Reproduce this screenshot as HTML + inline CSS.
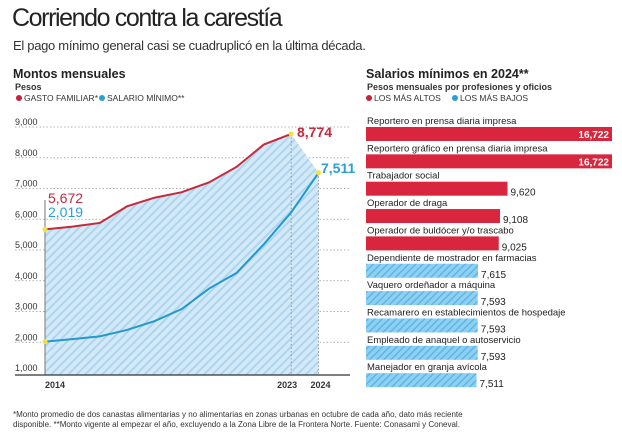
<!DOCTYPE html>
<html><head><meta charset="utf-8"><style>
body{margin:0;width:622px;height:443px;background:#fff;font-family:"Liberation Sans",sans-serif;overflow:hidden;position:relative;color:#222}
.t{position:absolute;white-space:nowrap}
</style></head><body>
<div class="t" style="left:12px;top:4px;font-size:25px;letter-spacing:-1.4px;color:#222">Corriendo contra la carestía</div>
<div class="t" style="left:13px;top:38px;font-size:13px;letter-spacing:-0.3px;color:#333">El pago mínimo general casi se cuadruplicó en la última década.</div>
<svg width="622" height="443" style="position:absolute;left:0;top:0" id="svg">
<defs><pattern id="hatch" width="6" height="6" patternUnits="userSpaceOnUse" patternTransform="rotate(45)"><rect width="6" height="6" fill="#d3e9f7"/><rect width="2" height="6" fill="#aed5ef"/></pattern>
<pattern id="hatch2" width="5" height="5" patternUnits="userSpaceOnUse" patternTransform="rotate(45)"><rect width="5" height="5" fill="#8fd0f2"/><rect width="1.5" height="5" fill="#5cb6e6"/></pattern></defs>
<g id="left"></g><g id="right"></g>
</svg>
<div class="t" style="left:13px;top:410px;font-size:8px;line-height:10px;color:#333">*Monto promedio de dos canastas alimentarias y no alimentarias en zonas urbanas en octubre de cada año, dato más reciente<br>disponible. **Monto vigente al empezar el año, excluyendo a la Zona Libre de la Frontera Norte. Fuente: Conasami y Coneval.</div>
<script>
const years=[2014,2015,2016,2017,2018,2019,2020,2021,2022,2023,2024];
const gasto=[5672,5760,5880,6420,6700,6880,7200,7700,8430,8774];
const salario=[2019,2103,2192,2401,2686,3080,3746,4251,5186,6223,7511];
const yTicks=[1000,2000,3000,4000,5000,6000,7000,8000,9000];
const cats=["Reportero en prensa diaria impresa","Reportero gráfico en prensa diaria impresa","Trabajador social","Operador de draga","Operador de buldócer y/o trascabo","Dependiente de mostrador en farmacias","Vaquero ordeñador a máquina","Recamarero en establecimientos de hospedaje","Empleado de anaquel o autoservicio","Manejador en granja avícola"];
const vals=[16722,16722,9620,9108,9025,7615,7593,7593,7593,7511];
const NS="http://www.w3.org/2000/svg";
function mk(p,tag,a,txt){const e=document.createElementNS(NS,tag);for(const k in a)e.setAttribute(k,a[k]);if(txt!=null)e.textContent=txt;p.appendChild(e);return e;}
const L=document.getElementById('left'),R=document.getElementById('right');
const x=y=>45+(y-2014)*27.35, Y=v=>127+(9000-v)*0.03075;
let e;
e=mk(L,'text',{x:13,y:78,'font-size':12.5,'font-weight':'bold',fill:'#222'},'Montos mensuales');
e=mk(L,'text',{x:15,y:90,'font-size':9,'font-weight':'bold',fill:'#333'},'Pesos');
e=mk(L,'circle',{cx:19,cy:98,r:3,fill:'#c8203a'});
e=mk(L,'text',{x:24,y:101,'font-size':8.5,fill:'#333'},'GASTO FAMILIAR*');
e=mk(L,'circle',{cx:102,cy:98,r:3,fill:'#2a9fd6'});
e=mk(L,'text',{x:107,y:101,'font-size':8.5,fill:'#333'},'SALARIO MÍNIMO**');
yTicks.forEach(v=>{if(v>1000){e=mk(L,'line',{x1:15,x2:350,y1:Y(v),y2:Y(v),stroke:'#999','stroke-width':0.8,'stroke-dasharray':'1.5,2'});}
e=mk(L,'text',{x:15,y:Y(v)-2,'font-size':9,fill:'#333'},v.toLocaleString('en-US'));});
let pts=gasto.map((v,i)=>x(years[i])+','+Y(v));
pts.push(x(2024)+','+Y(salario[10]));pts.push(x(2024)+','+375);pts.push(x(2014)+','+375);
e=mk(L,'polygon',{points:pts.join(' '),fill:'url(#hatch)'});
[2023,2024].forEach(yy=>{e=mk(L,'line',{x1:x(yy),x2:x(yy),y1:yy==2023?Y(gasto[9]):Y(salario[10]),y2:375,stroke:'#888','stroke-width':0.8,'stroke-dasharray':'1.5,2'});});
e=mk(L,'line',{x1:x(2014),x2:x(2014),y1:200,y2:375,stroke:'#777','stroke-width':1});
e=mk(L,'line',{x1:15,x2:350,y1:375,y2:375,stroke:'#333','stroke-width':1.3});
e=mk(L,'polyline',{points:gasto.map((v,i)=>x(years[i])+','+Y(v)).join(' '),fill:'none',stroke:'#c42a3c','stroke-width':2});
e=mk(L,'polyline',{points:salario.map((v,i)=>x(years[i])+','+Y(v)).join(' '),fill:'none',stroke:'#2299cc','stroke-width':2});
[[2014,gasto[0]],[2014,salario[0]],[2023,gasto[9]],[2024,salario[10]]].forEach(p=>{e=mk(L,'circle',{cx:x(p[0]),cy:Y(p[1]),r:2.5,fill:'#f2e23a'});});
const f=v=>v.toLocaleString('en-US');
e=mk(L,'text',{x:48,y:203,'font-size':14,fill:'#c42a3c'},f(gasto[0]));
e=mk(L,'text',{x:48,y:217,'font-size':14,fill:'#2a9fd6'},f(salario[0]));
e=mk(L,'text',{x:297,y:137,'font-size':14,'font-weight':'bold',fill:'#c42a3c'},f(gasto[9]));
e=mk(L,'text',{x:321,y:173,'font-size':14,'font-weight':'bold',fill:'#2a9fd6'},f(salario[10]));
[2014,2023,2024].forEach(yy=>{e=mk(L,'text',{x:yy==2014?x(yy):x(yy)+(yy==2023?-14:-8),y:388,'font-size':9,'font-weight':'bold',fill:'#333'},String(yy));});
e=mk(R,'text',{x:366,y:78,'font-size':12.5,'font-weight':'bold',fill:'#222'},'Salarios mínimos en 2024**');
e=mk(R,'text',{x:367,y:90,'font-size':9,'font-weight':'bold',fill:'#333'},'Pesos mensuales por profesiones y oficios');
e=mk(R,'circle',{cx:369,cy:98,r:3,fill:'#c8203a'});
e=mk(R,'text',{x:374,y:101,'font-size':8.5,fill:'#333'},'LOS MÁS ALTOS');
e=mk(R,'circle',{cx:455,cy:98,r:3,fill:'#2a9fd6'});
e=mk(R,'text',{x:460,y:101,'font-size':8.5,fill:'#333'},'LOS MÁS BAJOS');
const bx=v=>v*246/16722;
cats.forEach((c,i)=>{const y0=113+i*27.35;const hi=i<5;
e=mk(R,'text',{x:367,y:y0+11,'font-size':9.5,fill:'#222'},c);
e=mk(R,'rect',{x:366,y:y0+14,width:bx(vals[i]),height:14,fill:hi?'#d7263d':'url(#hatch2)'});
const w=bx(vals[i]);
if(w>200){e=mk(R,'text',{x:366+w-3,y:y0+25,'font-size':10,'font-weight':'bold',fill:'#fff','text-anchor':'end'},f(vals[i]));}
else{e=mk(R,'text',{x:366+w+3,y:y0+28,'font-size':10,fill:'#222'},f(vals[i]));}
});
</script>
</body></html>
